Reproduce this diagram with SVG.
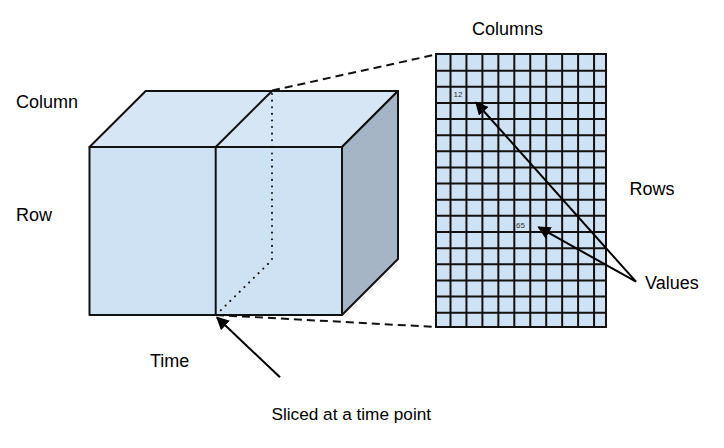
<svg xmlns="http://www.w3.org/2000/svg" width="724" height="448" viewBox="0 0 724 448">
<defs>
<style>
text{font-family:"Liberation Sans",Arial,sans-serif;fill:#000}
.lbl{font-size:18px}
.small{font-size:8px;fill:#333}
.edge{stroke:#111;stroke-width:2;stroke-linejoin:round}
.grid{stroke:#111;stroke-width:2}
.dash{stroke:#111;stroke-width:2;stroke-dasharray:8 5;fill:none}
.dot{stroke:#111;stroke-width:2;stroke-dasharray:0.1 6.5;stroke-linecap:round;fill:none}
.arr{stroke:#000;stroke-width:2;fill:none;marker-end:url(#ah)}
</style>
<marker id="ah" viewBox="0 0 10 10" refX="9" refY="5" markerWidth="6.5" markerHeight="6.5" orient="auto" markerUnits="strokeWidth">
<path d="M0,0 L10,5 L0,10 z" fill="#000"/>
</marker>
</defs>
<rect width="724" height="448" fill="#fff"/>

<g id="cube">
<polygon class="edge" points="89.5,147 145.7,91 398,91 342,147" fill="#d6e6f4"/>
<polygon class="edge" points="342,147 398,91 398,259 342,315" fill="#a5b5c5"/>
<rect class="edge" x="89.5" y="147" width="252.5" height="168" fill="#cfe2f3"/>
<line class="edge" x1="215.7" y1="147" x2="215.7" y2="315"/>
<line class="edge" x1="215.7" y1="147" x2="272" y2="91"/>
<polyline class="dot" points="272,94 272,260 218,313"/>
</g>

<g id="grid">
<rect x="436" y="54" width="170" height="273" fill="#cfe2f3" stroke="#111" stroke-width="2"/>
<g class="grid">
<line x1="450.5" y1="54" x2="450.5" y2="327"/>
<line x1="466.45" y1="54" x2="466.45" y2="327"/>
<line x1="482.4" y1="54" x2="482.4" y2="327"/>
<line x1="498.35" y1="54" x2="498.35" y2="327"/>
<line x1="514.3" y1="54" x2="514.3" y2="327"/>
<line x1="530.25" y1="54" x2="530.25" y2="327"/>
<line x1="546.2" y1="54" x2="546.2" y2="327"/>
<line x1="562.15" y1="54" x2="562.15" y2="327"/>
<line x1="578.1" y1="54" x2="578.1" y2="327"/>
<line x1="594.05" y1="54" x2="594.05" y2="327"/>
<line x1="436" y1="70.7" x2="606" y2="70.7"/>
<line x1="436" y1="86.83" x2="606" y2="86.83"/>
<line x1="436" y1="102.96" x2="606" y2="102.96"/>
<line x1="436" y1="119.09" x2="606" y2="119.09"/>
<line x1="436" y1="135.22" x2="606" y2="135.22"/>
<line x1="436" y1="151.35" x2="606" y2="151.35"/>
<line x1="436" y1="167.48" x2="606" y2="167.48"/>
<line x1="436" y1="183.61" x2="606" y2="183.61"/>
<line x1="436" y1="199.74" x2="606" y2="199.74"/>
<line x1="436" y1="215.87" x2="606" y2="215.87"/>
<line x1="436" y1="232" x2="606" y2="232"/>
<line x1="436" y1="248.13" x2="606" y2="248.13"/>
<line x1="436" y1="264.26" x2="606" y2="264.26"/>
<line x1="436" y1="280.39" x2="606" y2="280.39"/>
<line x1="436" y1="296.52" x2="606" y2="296.52"/>
<line x1="436" y1="312.65" x2="606" y2="312.65"/>
</g>
<text class="small" x="453.5" y="96.5">12</text>
<text class="small" x="516" y="227.5">65</text>
</g>

<g id="connectors">
<line class="dash" x1="272" y1="90.5" x2="436" y2="54.5"/>
<line class="dash" x1="216" y1="315" x2="436" y2="327"/>
<line class="arr" x1="636" y1="281.7" x2="476" y2="102.5"/>
<line class="arr" x1="636" y1="281.7" x2="538.5" y2="227.2"/>
<line class="arr" x1="280" y1="377.3" x2="217" y2="317.5"/>
</g>

<g id="labels">
<text class="lbl" x="472" y="34.5">Columns</text>
<text class="lbl" x="16" y="107.5">Column</text>
<text class="lbl" x="16" y="221">Row</text>
<text class="lbl" x="629.5" y="195">Rows</text>
<text class="lbl" x="645" y="288.5">Values</text>
<text class="lbl" x="150" y="366.5">Time</text>
<text class="lbl" x="271.5" y="420" style="font-size:17.2px">Sliced at a time point</text>
</g>
</svg>
